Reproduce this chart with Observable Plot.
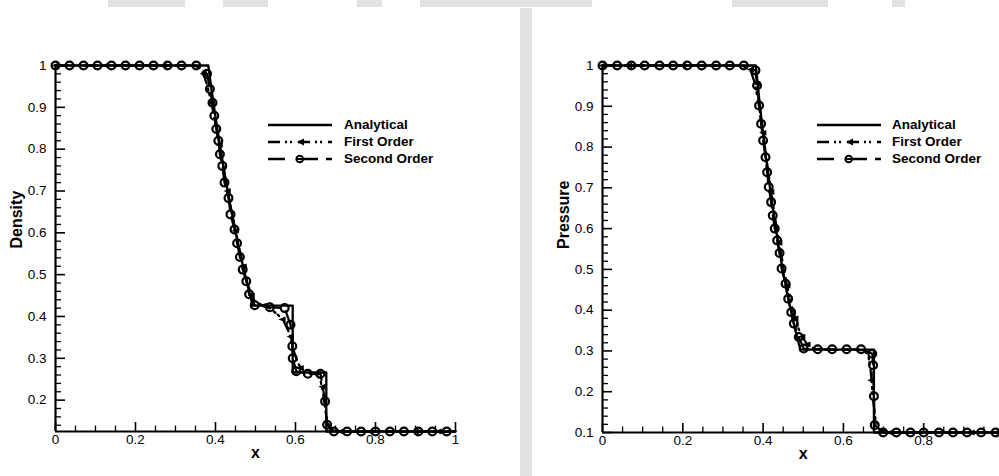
<!DOCTYPE html>
<html>
<head>
<meta charset="utf-8">
<script src="https://cdn.jsdelivr.net/npm/d3@7"></script>
<script src="https://cdn.jsdelivr.net/npm/@observablehq/plot@0.6"></script>
<style>
  html, body { margin: 0; padding: 0; background: #fff; }
  body { width: 999px; height: 476px; overflow: hidden; position: relative; font-family: "Liberation Sans", Arial, Helvetica, sans-serif; }
  .wm { position: absolute; background: #e2e2e2; }
  .panel { position: absolute; top: 0; }
  .panel svg { max-width: none !important; display: block; }
  .leg { position: absolute; font-weight: bold; font-size: 13.5px; color: #000; line-height: 17px; }
  .leg svg { position: absolute; left: 0; }
  .leg span { position: absolute; white-space: nowrap; }
</style>
</head>
<body>
<div class="wm" style="left:520px;top:8px;width:12px;height:468px"></div>
<div class="wm" style="left:108px;top:0;width:77px;height:7px"></div>
<div class="wm" style="left:223px;top:0;width:45px;height:7px"></div>
<div class="wm" style="left:357px;top:0;width:25px;height:7px"></div>
<div class="wm" style="left:420px;top:0;width:172px;height:7px"></div>
<div class="wm" style="left:732px;top:0;width:96px;height:7px"></div>
<div class="wm" style="left:892px;top:0;width:13px;height:7px"></div>
<div id="left" class="panel" style="left:0;width:480px"></div>
<div id="right" class="panel" style="left:540px;width:484px"></div>
<script>
// ---------- tick labels ----------
const xTicks = [0, 0.2, 0.4, 0.6, 0.8, 1];
const xTickLabelsLeft = [0, 0.2, 0.4, 0.6, 0.8, 1];
const xTickLabelsRight = [0, 0.2, 0.4, 0.6, 0.8];   // "1" falls outside the picture
const densityTicks = [0.2, 0.3, 0.4, 0.5, 0.6, 0.7, 0.8, 0.9, 1];
const pressureTicks = [0.1, 0.2, 0.3, 0.4, 0.5, 0.6, 0.7, 0.8, 0.9, 1];
const seriesNames = ["Analytical", "First Order", "Second Order"];

// ---------- Density: analytical ----------
const anaDensX = [0, 0.382, 0.39, 0.40, 0.41, 0.42, 0.43, 0.44, 0.45, 0.46, 0.47, 0.48, 0.49, 0.493, 0.593, 0.593, 0.677, 0.677, 1];
const anaDensY = [1, 1, 0.943, 0.877, 0.816, 0.758, 0.703, 0.652, 0.603, 0.558, 0.515, 0.475, 0.437, 0.426, 0.426, 0.266, 0.266, 0.125, 0.125];

// ---------- Density: first order ----------
const firstDensX = [0, 0.34, 0.36, 0.37, 0.38, 0.39, 0.40, 0.41, 0.42, 0.43, 0.44, 0.45, 0.46, 0.47, 0.48, 0.49, 0.50, 0.515, 0.535, 0.555, 0.57, 0.585, 0.595, 0.605, 0.615, 0.63, 0.65, 0.662, 0.67, 0.677, 0.685, 0.695, 0.72, 1];
const firstDensY = [1, 1, 0.995, 0.98, 0.95, 0.91, 0.86, 0.81, 0.755, 0.70, 0.65, 0.605, 0.56, 0.52, 0.48, 0.45, 0.435, 0.428, 0.42, 0.405, 0.39, 0.36, 0.32, 0.29, 0.275, 0.267, 0.262, 0.25, 0.21, 0.16, 0.135, 0.127, 0.125, 0.125];
const firstDensMarkX = [0, 0.125, 0.27, 0.37, 0.39, 0.41, 0.43, 0.45, 0.47, 0.49, 0.52, 0.567, 0.5875, 0.6125, 0.667, 0.7125, 0.785, 0.9, 0.957];
const firstDensMarkY = [1, 1, 1, 0.98, 0.91, 0.81, 0.70, 0.605, 0.52, 0.45, 0.426, 0.393, 0.352, 0.277, 0.232, 0.125, 0.125, 0.125, 0.125];

// ---------- Density: second order ----------
const secondDensX = [0, 0.035, 0.07, 0.105, 0.14, 0.175, 0.21, 0.245, 0.28, 0.315, 0.352, 0.379, 0.386, 0.3925, 0.397, 0.402, 0.407, 0.411, 0.417, 0.4225, 0.4325, 0.4375, 0.4475, 0.454, 0.461, 0.468, 0.477, 0.484, 0.498, 0.536, 0.573, 0.5875, 0.592, 0.593, 0.602, 0.631, 0.6625, 0.674, 0.679, 0.696, 0.729, 0.764, 0.8, 0.836, 0.871, 0.907, 0.942, 0.978];
const secondDensY = [1, 1, 1, 1, 1, 1, 1, 1, 1, 1, 1, 0.980, 0.944, 0.911, 0.880, 0.848, 0.820, 0.788, 0.760, 0.720, 0.683, 0.644, 0.608, 0.575, 0.542, 0.512, 0.484, 0.453, 0.427, 0.422, 0.420, 0.380, 0.329, 0.300, 0.269, 0.263, 0.263, 0.197, 0.141, 0.125, 0.125, 0.125, 0.125, 0.125, 0.125, 0.125, 0.125, 0.125];

// ---------- Pressure: analytical ----------
const anaPresX = [0, 0.382, 0.39, 0.40, 0.41, 0.42, 0.43, 0.44, 0.45, 0.46, 0.47, 0.48, 0.49, 0.493, 0.676, 0.676, 1];
const anaPresY = [1, 1, 0.921, 0.833, 0.752, 0.678, 0.611, 0.549, 0.493, 0.441, 0.395, 0.352, 0.314, 0.303, 0.303, 0.1, 0.1];

// ---------- Pressure: first order ----------
const firstPresX = [0, 0.34, 0.36, 0.37, 0.38, 0.39, 0.40, 0.41, 0.42, 0.43, 0.44, 0.45, 0.46, 0.47, 0.48, 0.49, 0.50, 0.51, 0.525, 0.55, 0.65, 0.662, 0.668, 0.674, 0.68, 0.69, 0.71, 1];
const firstPresY = [1, 1, 0.995, 0.985, 0.955, 0.90, 0.835, 0.76, 0.69, 0.625, 0.565, 0.51, 0.46, 0.415, 0.38, 0.35, 0.33, 0.316, 0.307, 0.303, 0.302, 0.29, 0.25, 0.18, 0.13, 0.108, 0.101, 0.1];
const firstPresMarkX = [0, 0.066, 0.2, 0.369, 0.385, 0.40, 0.42, 0.44, 0.46, 0.48, 0.497, 0.51, 0.669, 0.716, 0.919, 0.98];
const firstPresMarkY = [1, 1, 1, 0.99, 0.955, 0.835, 0.69, 0.565, 0.46, 0.38, 0.335, 0.316, 0.228, 0.1, 0.1, 0.1];

// ---------- Pressure: second order ----------
const secondPresX = [0, 0.0366, 0.072, 0.105, 0.142, 0.176, 0.211, 0.247, 0.283, 0.317, 0.352, 0.381, 0.385, 0.39, 0.395, 0.400, 0.406, 0.41, 0.414, 0.42, 0.424, 0.429, 0.435, 0.441, 0.446, 0.456, 0.4625, 0.47, 0.4765, 0.489, 0.501, 0.536, 0.572, 0.608, 0.644, 0.672, 0.674, 0.676, 0.678, 0.699, 0.732, 0.767, 0.8, 0.838, 0.873, 0.908, 0.943, 0.979];
const secondPresY = [1, 1, 1, 1, 1, 1, 1, 1, 1, 1, 1, 0.988, 0.951, 0.902, 0.857, 0.816, 0.775, 0.738, 0.702, 0.665, 0.632, 0.600, 0.571, 0.540, 0.502, 0.465, 0.428, 0.395, 0.367, 0.334, 0.306, 0.304, 0.304, 0.304, 0.304, 0.293, 0.265, 0.189, 0.118, 0.1, 0.1, 0.1, 0.1, 0.1, 0.1, 0.1, 0.1, 0.1];

const zip = (xs, ys) => xs.map((x, i) => ({x, y: ys[i]}));

// left-pointing arrow head symbol
const arrowLeft = {
  draw(ctx, size) {
    const r = Math.sqrt(size / Math.PI);
    ctx.moveTo(-r * 1.1, 0);
    ctx.lineTo(r * 0.9, -r * 0.8);
    ctx.lineTo(r * 0.9, r * 0.8);
    ctx.closePath();
  }
};

const DASH_FIRST = "12,5,2,3,2,6";
const DASH_SECOND = "17,8";

function panel({ana, first, firstMarks, second, yDomain, yTicks, xLabels, yLabel, width, marginLeft, marginRight, marginBottom}) {
  const height = 476, marginTop = 65;
  const plotH = height - marginTop - marginBottom;
  const plotW = width - marginLeft - marginRight;
  const xMinor = d3.range(0, 1.0001, 0.05).filter(v => !xTicks.some(t => Math.abs(t - v) < 1e-6));
  const yMinor = d3.range(0, 1.0001, 0.02).filter(v => v >= yDomain[0] - 1e-6 && !yTicks.some(t => Math.abs(t - v) < 1e-6));
  const fmt = d => String(d);
  return Plot.plot({
    width, height, marginTop, marginBottom, marginLeft, marginRight,
    x: {domain: [0, 1], label: null},
    y: {domain: yDomain, label: null},
    style: {fontFamily: "'Liberation Sans', Arial, Helvetica, sans-serif", background: "transparent", overflow: "visible", color: "#000", maxWidth: "none"},
    marks: [
      Plot.line(ana, {x: "x", y: "y", stroke: "#000", strokeWidth: 2.3}),
      Plot.line(first, {x: "x", y: "y", stroke: "#000", strokeWidth: 2.3, strokeDasharray: DASH_FIRST}),
      Plot.line(second, {x: "x", y: "y", stroke: "#000", strokeWidth: 2.2, strokeDasharray: DASH_SECOND}),
      Plot.dot(firstMarks, {x: "x", y: "y", symbol: arrowLeft, r: 3.6, fill: "#000", stroke: "none"}),
      Plot.dot(second, {x: "x", y: "y", r: 3.9, fill: "none", stroke: "#000", strokeWidth: 2.2}),
      // axis lines
      Plot.ruleX([0], {stroke: "#000", strokeWidth: 2.2}),
      Plot.ruleY([yDomain[0]], {stroke: "#000", strokeWidth: 2.2}),
      // inward ticks
      Plot.tickX(xTicks, {x: d => d, insetTop: plotH - 9, stroke: "#000", strokeWidth: 1.6}),
      Plot.tickX(xMinor, {x: d => d, insetTop: plotH - 5.5, stroke: "#000", strokeWidth: 1.3}),
      Plot.tickY(yTicks, {y: d => d, insetRight: plotW - 10, stroke: "#000", strokeWidth: 1.6}),
      Plot.tickY(yMinor, {y: d => d, insetRight: plotW - 6, stroke: "#000", strokeWidth: 1.3}),
      // tick labels
      Plot.axisX(xLabels, {tickSize: 0, tickPadding: 3, fontSize: 13.5, tickFormat: fmt, label: null}),
      Plot.axisY(yTicks, {tickSize: 0, tickPadding: 9, fontSize: 13.5, tickFormat: fmt, label: null}),
      // axis titles
      Plot.text([yLabel], {text: d => d, frameAnchor: "left", rotate: -90, dx: -39, fontWeight: "bold", fontSize: 16}),
      Plot.text(["x"], {text: d => d, frameAnchor: "bottom", dy: 26, fontWeight: "bold", fontSize: 16})
    ]
  });
}

document.getElementById("left").append(panel({
  ana: zip(anaDensX, anaDensY),
  first: zip(firstDensX, firstDensY),
  firstMarks: zip(firstDensMarkX, firstDensMarkY),
  second: zip(secondDensX, secondDensY),
  yDomain: [0.125, 1], yTicks: densityTicks, xLabels: xTickLabelsLeft, yLabel: "Density",
  width: 480, marginLeft: 55, marginRight: 25, marginBottom: 45
}));

document.getElementById("right").append(panel({
  ana: zip(anaPresX, anaPresY),
  first: zip(firstPresX, firstPresY),
  firstMarks: zip(firstPresMarkX, firstPresMarkY),
  second: zip(secondPresX, secondPresY),
  yDomain: [0.1, 1], yTicks: pressureTicks, xLabels: xTickLabelsRight, yLabel: "Pressure",
  width: 484, marginLeft: 62, marginRight: 20.5, marginBottom: 44
}));

// ---------- legends ----------
function legend(lineLeft, textLeft, firstRowY) {
  const samples = [
    `<line x1="0" x2="64" y1="8" y2="8" stroke="#000" stroke-width="2.3"/>`,
    `<line x1="0" x2="64" y1="8" y2="8" stroke="#000" stroke-width="2.5" stroke-dasharray="${DASH_FIRST}"/><path d="M29,8 L36,4.5 L36,11.5 Z" fill="#000"/>`,
    `<line x1="0" x2="64" y1="8" y2="8" stroke="#000" stroke-width="2.3" stroke-dasharray="17,11,22,8"/><circle cx="31.7" cy="8" r="3.3" fill="#fff" stroke="#000" stroke-width="2"/><line x1="28" x2="36" y1="8" y2="8" stroke="#000" stroke-width="2"/>`
  ];
  seriesNames.forEach((name, i) => {
    const div = document.createElement("div");
    div.className = "leg";
    div.style.left = lineLeft + "px";
    div.style.top = (firstRowY + i * 17 - 8) + "px";
    div.innerHTML = `<svg width="64" height="16" style="top:0">${samples[i]}</svg><span style="left:${textLeft - lineLeft}px;top:-1px">${name}</span>`;
    document.body.append(div);
  });
}
legend(268, 344, 125);
legend(817, 892, 125);
</script>
</body>
</html>
